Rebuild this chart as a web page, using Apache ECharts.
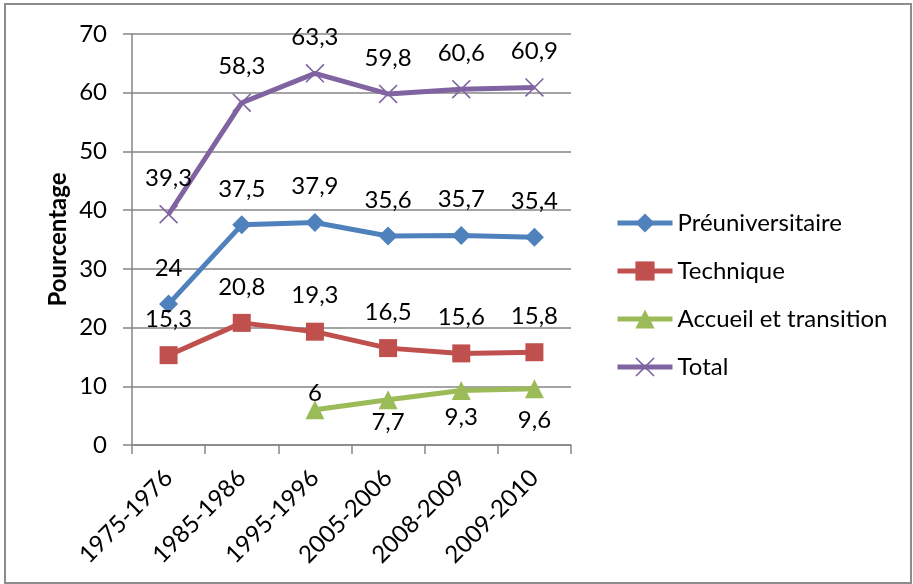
<!DOCTYPE html>
<html><head><meta charset="utf-8">
<script src="https://cdn.jsdelivr.net/npm/echarts@6/dist/echarts.min.js"></script>
<style>html,body{margin:0;padding:0;background:#fff}#c{width:913px;height:584px}</style>
</head><body><div id="c"></div>
<script>
const categories = ['1975-1976','1985-1986','1995-1996','2005-2006','2008-2009','2009-2010'];
const preuniversitaire = [24, 37.5, 37.9, 35.6, 35.7, 35.4];
const technique = [15.3, 20.8, 19.3, 16.5, 15.6, 15.8];
const accueil = [null, null, 6, 7.7, 9.3, 9.6];
const total = [39.3, 58.3, 63.3, 59.8, 60.6, 60.9];
const yTicks = [0, 70, 10];

// label vertical offsets (style only)
const accueilLabelDy = [0, 0, -17, 22, 27, 32];

const FONT = 'Lato';
const FS = 24;
const xPath = 'path://M0,1.2L1.2,0L10,8.8L18.8,0L20,1.2L11.2,10L20,18.8L18.8,20L10,11.2L1.2,20L0,18.8L8.8,10Z';

function fmt(v){ return String(v).replace('.', ','); }
function mkData(arr, dyArr, dyDefault){
  return arr.map((v,i)=> v==null ? null : ({
    value: v,
    label: { offset: [0, dyArr ? dyArr[i] : dyDefault] }
  }));
}
const lblBase = { show:true, position:'inside', color:'#000', fontFamily:FONT, fontSize:FS, formatter: p => fmt(p.value) };

const chart = echarts.init(document.getElementById('c'), null, {renderer:'canvas'});
chart.setOption({
  animation:false,
  textStyle:{fontFamily:FONT},
  graphic:[{type:'rect', shape:{x:5,y:4,width:906,height:579}, style:{fill:'none', stroke:'#8c8c8c', lineWidth:2}, z:-10}],
  grid:{left:132, right:342, top:34, bottom:139},
  legend:{
    orient:'vertical', left:610, top:206, itemWidth:55, itemHeight:24, itemGap:24,
    lineStyle:{width:5},
    textStyle:{fontFamily:FONT, fontSize:FS, color:'#000', lineHeight:24},
    data:['Préuniversitaire','Technique','Accueil et transition','Total']
  },
  xAxis:{
    type:'category', data:categories, boundaryGap:true,
    axisLine:{lineStyle:{color:'#868686', width:1.5}},
    axisTick:{show:true, length:9, lineStyle:{color:'#868686', width:1.5}},
    axisLabel:{rotate:45, margin:29, color:'#000', fontFamily:FONT, fontSize:FS, interval:0}
  },
  yAxis:{
    type:'value', min:yTicks[0], max:yTicks[1], interval:yTicks[2],
    name:'Pourcentage', nameLocation:'middle', nameGap:62, nameRotate:90,
    nameTextStyle:{fontFamily:FONT, fontSize:FS, fontWeight:'bold', color:'#000'},
    axisLine:{show:true, lineStyle:{color:'#868686', width:1.5}},
    axisTick:{show:true, length:9, lineStyle:{color:'#868686', width:1.5}},
    splitLine:{lineStyle:{color:'#868686', width:1.5}},
    axisLabel:{margin:25, color:'#000', fontFamily:FONT, fontSize:FS}
  },
  series:[
    {name:'Préuniversitaire', type:'line', data:mkData(preuniversitaire,null,-36), symbol:'diamond', symbolSize:19,
     lineStyle:{width:5, color:'#4F81BD'}, itemStyle:{color:'#4F81BD'}, label:lblBase},
    {name:'Technique', type:'line', data:mkData(technique,null,-36), symbol:'rect', symbolSize:18,
     lineStyle:{width:5, color:'#C0504D'}, itemStyle:{color:'#C0504D'}, label:lblBase},
    {name:'Accueil et transition', type:'line', data:mkData(accueil,accueilLabelDy,0), symbol:'triangle', symbolSize:19,
     lineStyle:{width:5, color:'#9BBB59'}, itemStyle:{color:'#9BBB59'}, label:lblBase},
    {name:'Total', type:'line', data:mkData(total,null,-36), symbol:xPath, symbolSize:19,
     lineStyle:{width:5, color:'#8064A2'}, itemStyle:{color:'#8064A2'}, label:lblBase}
  ]
});
</script></body></html>
